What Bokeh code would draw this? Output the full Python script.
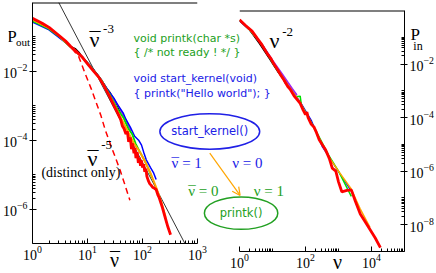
from bokeh.plotting import figure
from bokeh.models import (Range1d, LogAxis, FixedTicker, Label, Arrow, OpenHead)
from bokeh.embed import file_html
from bokeh.resources import INLINE

# ---------------- data: left panel, P_out vs nu-bar ----------------
out_red_x = [1, 1.5, 2, 3, 4, 5, 6, 8, 10, 13, 16, 20, 25, 30, 35, 40, 43, 46, 50, 53, 56, 60, 63, 66,
             70, 73, 76, 80, 84, 88, 92, 96, 100, 105, 110, 115, 120, 127, 135, 144, 155, 165, 177, 190,
             200, 230, 260, 290, 324]
out_red_y = [0.35, 0.25, 0.19, 0.112, 0.076, 0.052, 0.040, 0.026, 0.0166, 0.010, 0.0068, 0.0038, 0.0019,
             0.00105, 6.3e-4, 4.0e-4, 2.6e-4, 2.2e-4, 1.5e-4, 1.8e-4, 9e-5, 1.2e-4, 5.5e-5, 8e-5, 4.2e-5,
             6e-5, 3e-5, 4.5e-5, 2.2e-5, 3.1e-5, 1.8e-5, 2.6e-5, 1.6e-5, 2.0e-5, 1.2e-5, 1.5e-5, 9e-6,
             6.8e-6, 5.5e-6, 4.9e-6, 4.2e-6, 4.0e-6, 3.7e-6, 2.6e-6, 2.2e-6, 1.1e-6, 5.5e-7, 3.0e-7, 1.8e-7]
out_orange_x = [1, 2, 3, 5, 8, 12, 18, 25, 35, 50, 70, 90, 110, 140, 180, 220, 263]
out_orange_y = [0.32, 0.18, 0.11, 0.05, 0.026, 0.012, 0.0052, 0.002, 7e-4, 2.3e-4, 8e-5, 4.5e-5, 2.5e-5,
                1.1e-5, 4e-6, 1.6e-6, 5.9e-7]
out_green_x = [1, 2, 3, 5, 8, 12, 18, 25, 35, 45, 55, 65, 75, 90, 110, 130, 150]
out_green_y = [0.29, 0.17, 0.105, 0.05, 0.026, 0.0125, 0.0055, 0.0022, 8e-4, 4.5e-4, 2.2e-4, 1.5e-4,
               8e-5, 4.5e-5, 2.5e-5, 1.4e-5, 8e-6]
out_blue_x = [1, 2, 4, 8, 12, 18, 25, 30, 35, 40, 45, 50, 60, 72, 85, 96, 105, 117, 140, 160, 177]
out_blue_y = [0.27, 0.16, 0.068, 0.026, 0.013, 0.0055, 0.0025, 0.0017, 0.0011, 8e-4, 6e-4, 4e-4, 2.4e-4,
              1.3e-4, 1e-4, 7.2e-5, 4.5e-5, 2.7e-5, 1.6e-5, 1.1e-5, 7.2e-6]
out_purple_x = [1, 2, 3, 5, 8, 12, 18, 25, 30, 35, 40, 45, 50, 55, 62]
out_purple_y = [0.3, 0.175, 0.108, 0.051, 0.027, 0.0125, 0.0056, 0.0024, 0.0016, 0.0011, 7.5e-4, 5e-4,
                4e-4, 2.6e-4, 1.8e-4]
out_black_x = [1, 2, 3, 4, 5, 6, 7, 8, 10, 12, 15, 18, 22, 26, 30, 35, 40]
out_black_y = [0.31, 0.175, 0.108, 0.074, 0.053, 0.046, 0.036, 0.027, 0.018, 0.013, 0.0083, 0.0055,
               0.0033, 0.0024, 0.0016, 0.001, 6e-4]
out_distinct_x = [1, 2, 3, 4, 5, 6.9, 9, 11.7, 14, 17.6, 21, 26.4, 32, 39.5, 48, 59]
out_distinct_y = [0.34, 0.185, 0.108, 0.072, 0.05, 0.027, 0.0089, 0.0031, 0.0014, 5.1e-4, 2.0e-4,
                  7.2e-5, 3.2e-5, 1.3e-5, 5e-6, 1.8e-6]
guide3_x = [3.0, 590]
guide3_y = [1.0, 1e-7]

# ---------------- data: right panel, P_in vs nu ----------------
in_red_x = [1, 1.5, 2.4, 3.5, 4.7, 7, 9, 11, 14, 17, 22, 29, 35, 45, 55, 69, 85, 100, 110, 120, 150,
            180, 214, 260, 320, 400, 525, 646, 830, 1000, 1260, 1800, 2450, 3200, 4570, 6500, 9500,
            13000, 18600]
in_red_y = [0.45, 0.28, 0.17, 0.089, 0.054, 0.024, 0.016, 0.010, 0.0064, 0.0042, 0.0026, 0.00145,
            0.0011, 6.5e-4, 4.8e-4, 3.4e-4, 1.9e-4, 1.3e-4, 1.6e-4, 1.0e-4, 5.6e-5, 4.5e-5, 2.8e-5,
            1.5e-5, 1.0e-5, 6.5e-6, 3.0e-6, 1.3e-6, 1.0e-6, 4.0e-7, 1.7e-7, 1.9e-7, 2.0e-7, 7.9e-8,
            2.5e-8, 1.26e-8, 6.0e-9, 3.2e-9, 1.4e-9]
in_orange_x = [1, 2, 5, 10, 30, 70, 200, 500, 1000, 2400, 4500, 9000]
in_orange_y = [0.43, 0.2, 0.05, 0.0126, 0.0016, 3.5e-4, 3.2e-5, 3.5e-6, 1.0e-6, 2.2e-7, 4e-8, 7.9e-9]
in_green_x = [1, 2, 5, 10, 30, 50, 69, 75, 200, 500, 1000, 2450]
in_green_y = [0.43, 0.19, 0.05, 0.0112, 0.0014, 6e-4, 6.3e-4, 3e-4, 3.5e-5, 4.0e-6, 1.0e-6, 1.15e-7]
in_blue_x = [1, 2, 5, 7.6, 10, 30, 70, 150, 325, 2450]
in_blue_y = [0.4, 0.19, 0.05, 0.023, 0.0126, 0.0016, 3.8e-4, 8e-5, 8e-6, 1.8e-7]
in_purple_x = [1, 2, 5, 10, 20, 30, 40, 55]
in_purple_y = [0.43, 0.2, 0.052, 0.014, 0.0042, 0.002, 0.0012, 7e-4]
in_black_x = [1, 2, 4, 8, 15, 20, 25]
in_black_y = [0.42, 0.19, 0.058, 0.016, 0.0048, 0.0032, 0.0018]

# axis extents and tick positions
left_x_range = (1, 1000)
left_y_range = (1e-7, 1)
right_x_range = (1, 1e5)
right_y_range = (1e-9, 1)
left_x_major = [1, 10, 100, 1000]
right_x_major = [1, 100, 10000]
left_y_major = [1e-6, 1e-4, 1e-2]
right_y_major = [1e-8, 1e-6, 1e-4, 1e-2]

# ---------------- styles / geometry ----------------
SERIF = "Liberation Serif"
SANS = "DejaVu Sans"
C_BLUE_T = "#2020e6"
C_GREEN_T = "#22a022"
C_ORANGE = "#ffa500"
C_RED = "#ff0000"
C_GREEN = "#00e000"
C_BLUE = "#0000ff"
C_PURPLE = "#a020f0"

W, H = 428, 265
BL, BR, BT, BB = 30, 30, 2, 22           # outer frame borders on the canvas
FX0, FX1, FY0, FY1 = BL, W - BR, BT, H - BB
# the reference layout in its own pixel grid (used for annotation placement)
RX0, RX1, RY0, RY1 = 32, 408, 2, 247
L_END, R_START = 203, 237
OVERLAY = {"position": "absolute", "left": "8px", "top": "8px"}


def cx(rx):
    return FX0 + (rx - RX0) * (FX1 - FX0) / (RX1 - RX0)


def rx_of(c):
    return RX0 + (c - FX0) * (RX1 - RX0) / (FX1 - FX0)


def ry_of(c):
    return RY0 + (c - FY0) * (RY1 - RY0) / (FY1 - FY0)


def minors(majors, mults):
    return [m * t for t in majors for m in mults]


def style_axis(ax, x_axis):
    ax.axis_line_color = "black"
    ax.major_tick_line_color = "black"
    ax.minor_tick_line_color = "black"
    ax.major_label_text_font = SERIF
    ax.major_label_text_font_size = "14px"
    ax.major_label_text_color = "black"
    ax.major_label_standoff = 2
    if x_axis:
        ax.major_tick_in, ax.major_tick_out = 5, 0
    else:
        ax.major_tick_in, ax.major_tick_out = 4, 3
    ax.minor_tick_in, ax.minor_tick_out = 3, 0


def base_fig(xr, yr, left, right, transparent):
    f = figure(width=W, height=H, x_axis_type="log", y_axis_type="log",
               x_range=Range1d(*xr), y_range=Range1d(*yr),
               output_backend="svg", toolbar_location=None,
               min_border_left=left, min_border_right=right,
               min_border_top=BT, min_border_bottom=BB)
    f.outline_line_color = None
    f.grid.visible = False
    if transparent:
        f.background_fill_alpha = 0
        f.border_fill_alpha = 0
        f.styles = OVERLAY
    return f


# ---- left panel figure ----
pl = base_fig(left_x_range, left_y_range, BL, int(round(W - cx(L_END))), False)
xa = pl.xaxis[0]
xa.ticker = FixedTicker(ticks=left_x_major, minor_ticks=minors([1, 10, 100], range(2, 10)))
style_axis(xa, True)
ya = pl.yaxis[0]
ya.ticker = FixedTicker(ticks=left_y_major, minor_ticks=minors(left_y_major, range(2, 11)))
style_axis(ya, False)
pl.segment(x0=[left_x_range[0]], x1=[left_x_range[1]], y0=[left_y_range[1]], y1=[left_y_range[1]],
           line_color="black", line_width=2)

pl.line(guide3_x, guide3_y, line_color="black", line_width=0.8)
pl.line(out_black_x, out_black_y, line_color="black", line_width=1.2)
pl.line(out_purple_x, out_purple_y, line_color=C_PURPLE, line_width=1.5)
pl.line(out_blue_x, out_blue_y, line_color=C_BLUE, line_width=1.5)
pl.line(out_green_x, out_green_y, line_color=C_GREEN, line_width=1.8)
pl.line(out_orange_x, out_orange_y, line_color=C_ORANGE, line_width=2)
pl.line(out_distinct_x, out_distinct_y, line_color=C_RED, line_width=1.5, line_dash="6 4")
pl.line(out_red_x, out_red_y, line_color=C_RED, line_width=2.8)

# ---- right panel figure ----
pr = base_fig(right_x_range, right_y_range, int(round(cx(R_START))), BR, True)
pr.yaxis.visible = False
rxa = pr.xaxis[0]
rxa.ticker = FixedTicker(ticks=right_x_major, minor_ticks=minors(right_x_major, range(2, 11)))
style_axis(rxa, True)
rya = LogAxis(ticker=FixedTicker(ticks=right_y_major, minor_ticks=minors(right_y_major, range(2, 11))))
style_axis(rya, False)
pr.add_layout(rya, "right")
pr.segment(x0=[right_x_range[0]], x1=[right_x_range[1]], y0=[right_y_range[1]], y1=[right_y_range[1]],
           line_color="black", line_width=2)

pr.line(in_black_x, in_black_y, line_color="black", line_width=1.2)
pr.line(in_purple_x, in_purple_y, line_color=C_PURPLE, line_width=1.5)
pr.line(in_blue_x, in_blue_y, line_color=C_BLUE, line_width=1.2)
pr.line(in_green_x, in_green_y, line_color=C_GREEN, line_width=1.5)
pr.line(in_orange_x, in_orange_y, line_color=C_ORANGE, line_width=1.5)
pr.line(in_red_x, in_red_y, line_color=C_RED, line_width=2.8)

# ---- annotation overlay (whole canvas is its frame; coordinates in reference pixels) ----
pa = figure(width=W, height=H, x_range=Range1d(rx_of(0), rx_of(W)), y_range=Range1d(ry_of(H), ry_of(0)),
            output_backend="svg", toolbar_location=None, x_axis_location=None, y_axis_location=None,
            min_border=0, min_border_left=0, min_border_right=0, min_border_top=0, min_border_bottom=0)
pa.outline_line_color = None
pa.grid.visible = False
pa.background_fill_alpha = 0
pa.border_fill_alpha = 0
pa.styles = OVERLAY


def lab(x, y, text, font=SERIF, size="14px", color="black", align="left"):
    pa.add_layout(Label(x=x, y=y, text=text, text_font=font, text_font_size=size,
                        text_color=color, text_baseline="middle", text_align=align))


NU = "\u03bd"
BAR = "\u00af"


def nubar(x, y, size, color="black", rest=""):
    lab(x, y, NU + rest, size=size, color=color)
    lab(x, y, BAR, size=size, color=color)


lab(0, 28, "P", size="17px")
lab(9, 34, "out", size="11px")
lab(412, 26, "P", size="17px")
lab(415, 38, "in", size="12px")

nubar(84, 31, "22px")
lab(98, 21, "-3", size="13px")
lab(268, 33, NU, size="22px")
lab(281, 24, "-2", size="13px")
nubar(82, 152, "22px")
lab(96, 139, "-5", size="13px")
lab(35, 167, "(distinct only)", size="14px")

nubar(105, 256, "20px")
lab(333, 258, NU, size="20px")

lab(129, 30, "void printk(char *s)", font=SANS, size="11px", color=C_GREEN_T)
lab(129, 45, "{ /* not ready ! */ }", font=SANS, size="11px", color=C_GREEN_T)
lab(129, 71, "void start_kernel(void)", font=SANS, size="11px", color=C_BLUE_T)
lab(129, 86, "{ printk(\"Hello world\"); }", font=SANS, size="11px", color=C_BLUE_T)

pa.ellipse(x=[207], y=[125], width=[102], height=[36], fill_color=None, line_color=C_BLUE_T,
           line_width=1.5)
lab(207, 125, "start_kernel()", font=SANS, size="11.5px", color=C_BLUE_T, align="center")
pa.ellipse(x=[239], y=[208], width=[75], height=[33], fill_color=None, line_color=C_GREEN_T,
           line_width=1.5)
lab(239, 208, "printk()", font=SANS, size="11.5px", color=C_GREEN_T, align="center")

nubar(168, 157, "15px", C_BLUE_T, " = 1")
lab(230, 157, NU + " = 0", size="15px", color=C_BLUE_T)
nubar(185, 185, "15px", C_GREEN_T, " = 0")
lab(252, 185, NU + " = 1", size="15px", color=C_GREEN_T)

pa.add_layout(Arrow(end=OpenHead(size=8, line_color=C_ORANGE, line_width=1.2),
                    x_start=207, y_start=147, x_end=238, y_end=190,
                    line_color=C_ORANGE, line_width=1.2))

# three separate canvases, the two transparent ones positioned on top of the first
open("out.html", "w").write(file_html([pl, pr, pa], INLINE))
